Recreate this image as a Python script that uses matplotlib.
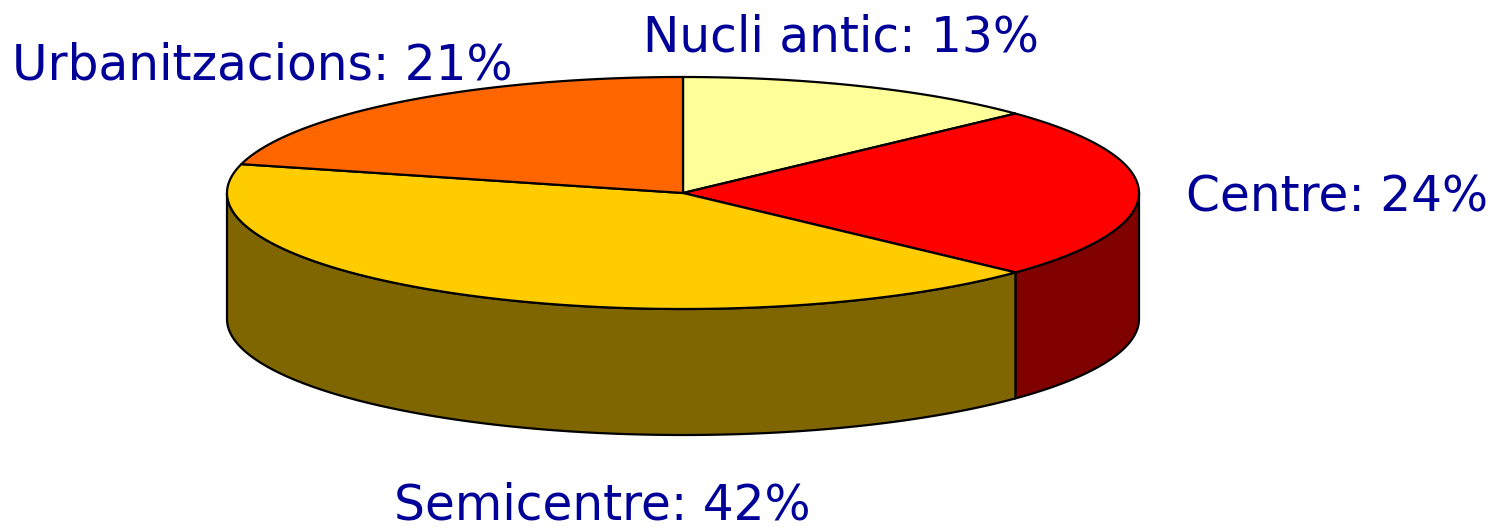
import numpy as np
import matplotlib
matplotlib.use("Agg")
import matplotlib.pyplot as plt
from matplotlib.patches import Polygon

# Data
labels = ["Nucli antic", "Centre", "Semicentre", "Urbanitzacions"]
shares = [13, 24, 42, 21]
top_colors = ["#FFFF99", "#FF0000", "#FFCC00", "#FF6600"]
side_colors = ["#808033", "#800000", "#806600", "#803300"]

# pie geometry (pixels)
cx, cy = 683, 193
rx, ry = 456, 116
depth = 126
start_angle = 90.0

fig = plt.figure(figsize=(14.99, 5.31), dpi=100)
ax = fig.add_axes([0, 0, 1, 1])
ax.set_xlim(0, 1499)
ax.set_ylim(531, 0)
ax.axis("off")


def arc(a0, a1, dy=0, n=200):
    t = np.radians(np.linspace(a0, a1, n))
    return np.column_stack([cx + rx * np.cos(t), cy - ry * np.sin(t) + dy])


# slice angle ranges, clockwise from 12 o'clock
bounds = []
a = start_angle
for s in shares:
    b = a - 360.0 * s / sum(shares)
    bounds.append((a, b))
    a = b

# front side walls
for (a0, a1), col in zip(bounds, side_colors):
    lo, hi = a1, a0
    for k in (-1, 0, 1):
        flo, fhi = -180 + 360 * k, 360 * k
        s0, s1 = max(lo, flo), min(hi, fhi)
        if s1 > s0:
            top = arc(s1, s0)
            bot = arc(s0, s1, dy=depth)
            ax.add_patch(Polygon(np.vstack([top, bot]), closed=True,
                                 facecolor=col, edgecolor="black", lw=1.6,
                                 joinstyle="round"))

# top faces
for (a0, a1), col in zip(bounds, top_colors):
    pts = np.vstack([[cx, cy], arc(a0, a1)])
    ax.add_patch(Polygon(pts, closed=True, facecolor=col, edgecolor="black",
                         lw=1.6, joinstyle="round"))

# labels
label_pos = [(841, 52), (1337, 212), (602, 520), (262, 80)]
for name, s, (x, y) in zip(labels, shares, label_pos):
    ax.text(x, y, f"{name}: {s}%", ha="center", va="baseline",
            fontsize=35, color="#000099", family="DejaVu Sans")

fig.savefig("out.png", dpi=100)
